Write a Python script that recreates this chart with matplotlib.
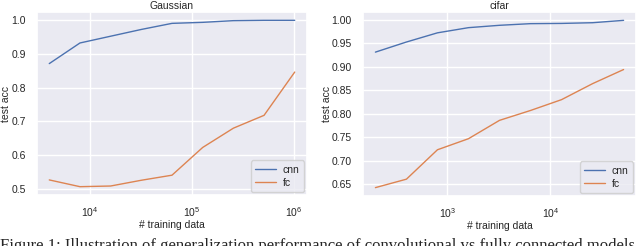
import matplotlib
matplotlib.use("Agg")
import matplotlib.pyplot as plt
import seaborn as sns

sns.set_theme(style="darkgrid")
plt.rcParams['font.family'] = ['Liberation Sans', 'DejaVu Sans']

gauss_n = [4000, 8000, 16000, 32000, 64000, 128000, 256000, 512000, 1024000]
gauss_cnn = [0.871, 0.932, 0.952, 0.972, 0.990, 0.993, 0.998, 0.999, 0.999]
gauss_fc = [0.527, 0.507, 0.509, 0.526, 0.541, 0.623, 0.680, 0.718, 0.846]

cifar_n = [200, 400, 800, 1600, 3200, 6400, 12800, 25600, 51200]
cifar_cnn = [0.931, 0.9525, 0.972, 0.983, 0.988, 0.9915, 0.992, 0.9935, 0.9985]
cifar_fc = [0.643, 0.661, 0.7235, 0.747, 0.786, 0.807, 0.830, 0.864, 0.894]

titles = ["Gaussian", "cifar"]
series_labels = ["cnn", "fc"]
xlabel = "# training data"
ylabel = "test acc"
caption = "Figure 1: Illustration of generalization performance of convolutional vs fully connected models"

fig = plt.figure(figsize=(6.4, 2.46), dpi=100)
W, H = 640, 246
boxes = [(37, 12, 307, 195), (363, 12, 636, 196)]
ylabel_x = [11, 332]
data = [(gauss_n, gauss_cnn, gauss_fc), (cifar_n, cifar_cnn, cifar_fc)]
colors = ["#4C72B0", "#DD8452"]
fs = 7.5

for (x0, y0, x1, y1), (n, c, f), t, lx in zip(boxes, data, titles, ylabel_x):
    ax = fig.add_axes([x0 / W, 1 - y1 / H, (x1 - x0) / W, (y1 - y0) / H])
    ax.plot(n, c, color=colors[0], lw=1.0, label=series_labels[0])
    ax.plot(n, f, color=colors[1], lw=1.0, label=series_labels[1])
    ax.set_xscale("log")
    ax.set_title(t, fontsize=fs, pad=2)
    ax.set_xlabel(xlabel, fontsize=fs, labelpad=1)
    ax.set_ylabel(ylabel, fontsize=fs)
    ax.yaxis.set_label_coords((lx - x0) / (x1 - x0), 0.5)
    ax.tick_params(axis="both", labelsize=fs, pad=2)
    ax.tick_params(axis="x", pad=1)
    ax.minorticks_off()
    ax.legend(loc="lower right", fontsize=fs, handlelength=2.0,
              labelspacing=0.3, borderpad=0.4, handletextpad=0.7,
              borderaxespad=0.3)

fig.text(0.0, (H - 250) / H, caption, fontsize=12, family="Liberation Serif",
         ha="left", va="baseline")

fig.savefig("out.png", dpi=100)
